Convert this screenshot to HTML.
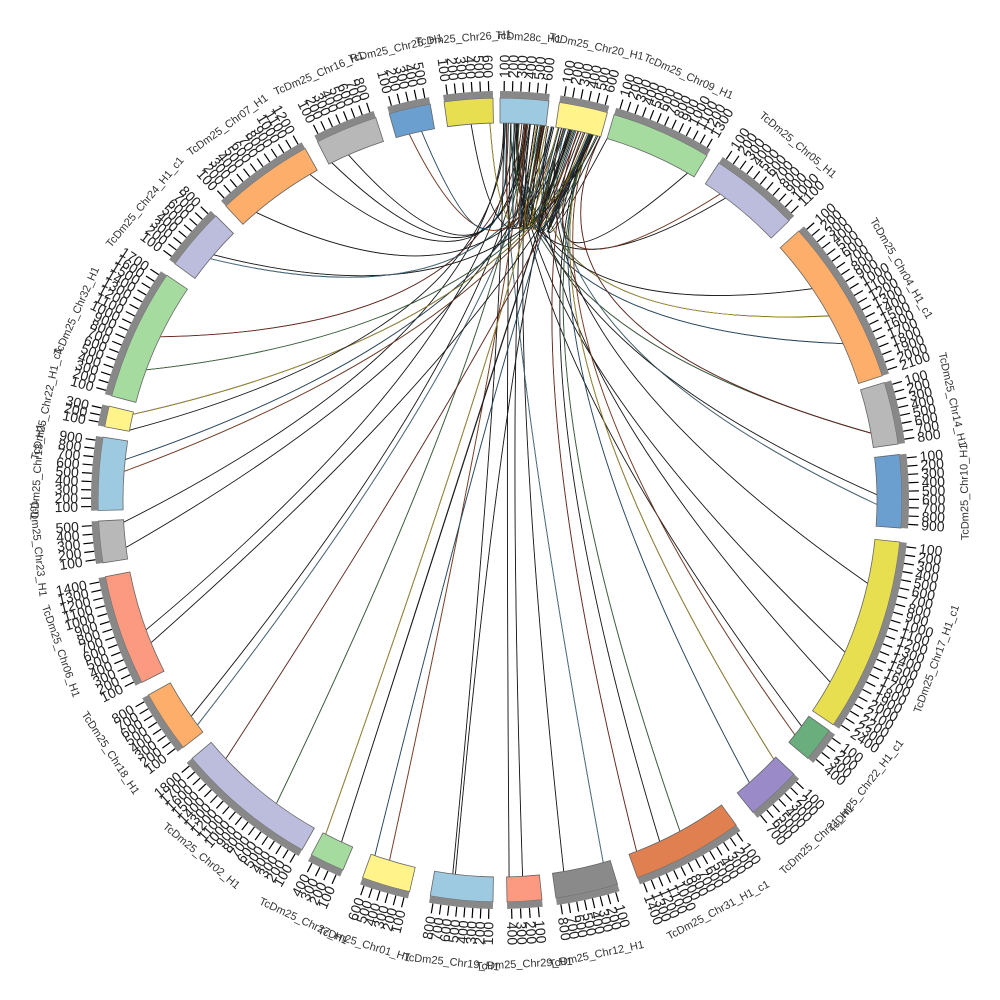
<!DOCTYPE html>
<html><head><meta charset="utf-8"><style>
html,body{margin:0;padding:0;background:#fff;width:1000px;height:1000px;overflow:hidden}
svg{display:block}
text{font-family:"Liberation Sans",sans-serif}
</style></head><body>
<svg id="s" width="1000" height="1000" viewBox="0 0 1000 1000" xmlns="http://www.w3.org/2000/svg">
<g id="links"></g><g id="segs"></g><g id="ticks"></g>
<g font-size="11" fill="#333" text-anchor="middle">
<text transform="rotate(3.5 500 500)" x="500" y="40">TcDm28c_H1</text>
<text transform="rotate(12 500 500)" x="500" y="40">TcDm25_Chr20_H1</text>
<text transform="rotate(24 500 500)" x="500" y="40">TcDm25_Chr09_H1</text>
<text transform="rotate(40 500 500)" x="500" y="40">TcDm25_Chr05_H1</text>
<text transform="rotate(60 500 500)" x="500" y="40">TcDm25_Chr04_H1_c1</text>
<text transform="rotate(77.5 500 500)" x="500" y="40">TcDm25_Chr14_H1</text>
<text transform="rotate(-91 500 500)" x="500" y="968">TcDm25_Chr10_H1</text>
<text transform="rotate(-70 500 500)" x="500" y="968">TcDm25_Chr17_H1_c1</text>
<text transform="rotate(-52 500 500)" x="500" y="968">TcDm25_Chr22_H1_c1</text>
<text transform="rotate(-43 500 500)" x="500" y="968">TcDm25_Chr21_H1</text>
<text transform="rotate(-28 500 500)" x="500" y="968">TcDm25_Chr31_H1_c1</text>
<text transform="rotate(-12 500 500)" x="500" y="968">TcDm25_Chr12_H1</text>
<text transform="rotate(-3 500 500)" x="500" y="968">TcDm25_Chr29_H1</text>
<text transform="rotate(6 500 500)" x="500" y="968">TcDm25_Chr19_H1</text>
<text transform="rotate(17 500 500)" x="500" y="968">TcDm25_Chr01_H1</text>
<text transform="rotate(25 500 500)" x="500" y="968">TcDm25_Chr27_H1</text>
<text transform="rotate(40 500 500)" x="500" y="968">TcDm25_Chr02_H1</text>
<text transform="rotate(57 500 500)" x="500" y="968">TcDm25_Chr18_H1</text>
<text transform="rotate(71 500 500)" x="500" y="968">TcDm25_Chr06_H1</text>
<text transform="rotate(84 500 500)" x="500" y="968">TcDm25_Chr23_H1</text>
<text transform="rotate(273.5 500 500)" x="500" y="40">TcDm25_Chr13_H1</text>
<text transform="rotate(282 500 500)" x="500" y="40">TcDm25_Chr22_H1_c1</text>
<text transform="rotate(294 500 500)" x="500" y="40">TcDm25_Chr32_H1</text>
<text transform="rotate(310 500 500)" x="500" y="40">TcDm25_Chr24_H1_c1</text>
<text transform="rotate(324 500 500)" x="500" y="40">TcDm25_Chr07_H1</text>
<text transform="rotate(337 500 500)" x="500" y="40">TcDm25_Chr16_H1</text>
<text transform="rotate(347 500 500)" x="500" y="40">TcDm25_Chr25_H1</text>
<text transform="rotate(355.5 500 500)" x="500" y="40">TcDm25_Chr26_H1</text>
</g>
</svg>
<script>
var NS="http://www.w3.org/2000/svg",C=500,R1=377,R2=402;
var segs=[[0,7,"#9ecae1"],[8.5,15.5,"#fff38a"],[16.5,31,"#a6dba0"],[33,46,"#bcbddc"],[48,72,"#fdae6b"],[73,82,"#b8b8b8"],[83.5,94,"#6a9fd0"],[96,124,"#e8df50"],[125,130,"#6aae7e"],[133,141,"#9a8ac8"],[144,160,"#e08050"],[163,172,"#8a8a8a"],[174,179,"#fb9a80"],[181,190,"#9ecae1"],[193,200,"#fff38a"],[203,208,"#a6dba0"],[209.5,230,"#bcbddc"],[232,241,"#fdae6b"],[243,259,"#fb9a80"],[261,267,"#b8b8b8"],[268.5,279,"#9ecae1"],[280.5,283.5,"#fff38a"],[285,304,"#a6dba0"],[306,315,"#bcbddc"],[317,331,"#fdae6b"],[333,342,"#b8b8b8"],[344,350,"#6a9fd0"],[352,359,"#e8df50"]];
function P(a,r){var t=(a-90)*Math.PI/180;return [C+r*Math.cos(t),C+r*Math.sin(t)];}
function el(n,at,p){var e=document.createElementNS(NS,n);for(var k in at)e.setAttribute(k,at[k]);p.appendChild(e);return e;}
function sector(a0,a1,r0,r1){var p0=P(a0,r1),p1=P(a1,r1),p2=P(a1,r0),p3=P(a0,r0),l=(a1-a0>180)?1:0;
return "M"+p0+" A"+r1+","+r1+" 0 "+l+" 1 "+p1+" L"+p2+" A"+r0+","+r0+" 0 "+l+" 0 "+p3+"Z";}
var gs=document.getElementById("segs"),gt=document.getElementById("ticks"),gl=document.getElementById("links");
var nums=["100","200","300","400","500","600","700","800","900","1000","1100","1200","1300","1400","1500","1600","1700","1800","1900","2000","2100","2200","2300","2400","2500"];
segs.forEach(function(s){
el("path",{d:sector(s[0],s[1],R1,R2),fill:s[2],stroke:"#666","stroke-width":"0.8"},gs);
el("path",{d:sector(s[0],s[1],R2,R2+7),fill:"#888",stroke:"none"},gs);
var n=Math.max(2,Math.round((s[1]-s[0])/1.15));
for(var i=0;i<n;i++){var a=s[0]+(s[1]-s[0])*(i+0.5)/n;var q0=P(a,R2+7),q1=P(a,R2+17);
el("line",{x1:q0[0],y1:q0[1],x2:q1[0],y2:q1[1],stroke:"#000","stroke-width":"1.2"},gt);
var t;var upper=(a<=180);
if(upper){t=el("text",{x:C+R2+20,y:C+5,"font-size":"14",fill:"#222",transform:"rotate("+(a-90)+" 500 500)"},gt);}
else{t=el("text",{x:C-R2-20,y:C+5,"font-size":"14",fill:"#222","text-anchor":"end",transform:"rotate("+(a+90)+" 500 500)"},gt);}
t.textContent=nums[i%nums.length];}
});
var cols=["#222","#222","#222","#c05020","#2a6a9a","#e0c020","#222","#4a8a4a","#a03020","#222","#5aa0c0","#222"];
var seed=7;function rnd(){seed=(seed*16807)%2147483647;return seed/2147483647;}
var targets=[];segs.forEach(function(s,i){if(i>1){var k=(i==7||i==4||i==10)?3:2;for(var j=0;j<k;j++)targets.push(s[0]+(s[1]-s[0])*rnd());}});
for(var j=0;j<25;j++)targets.push(0.5+rnd()*14.5);
targets.forEach(function(b,idx){
var a=0.5+rnd()*15;var p=P(a,R1),q=P(b,R1);
var d="M"+p+" Q505,330 "+q;
el("path",{d:d,fill:"none",stroke:"#111","stroke-width":"0.9"},gl);
el("path",{d:d,fill:"none",stroke:cols[idx%cols.length],"stroke-width":"0.5"},gl);
});
</script>
</body></html>
